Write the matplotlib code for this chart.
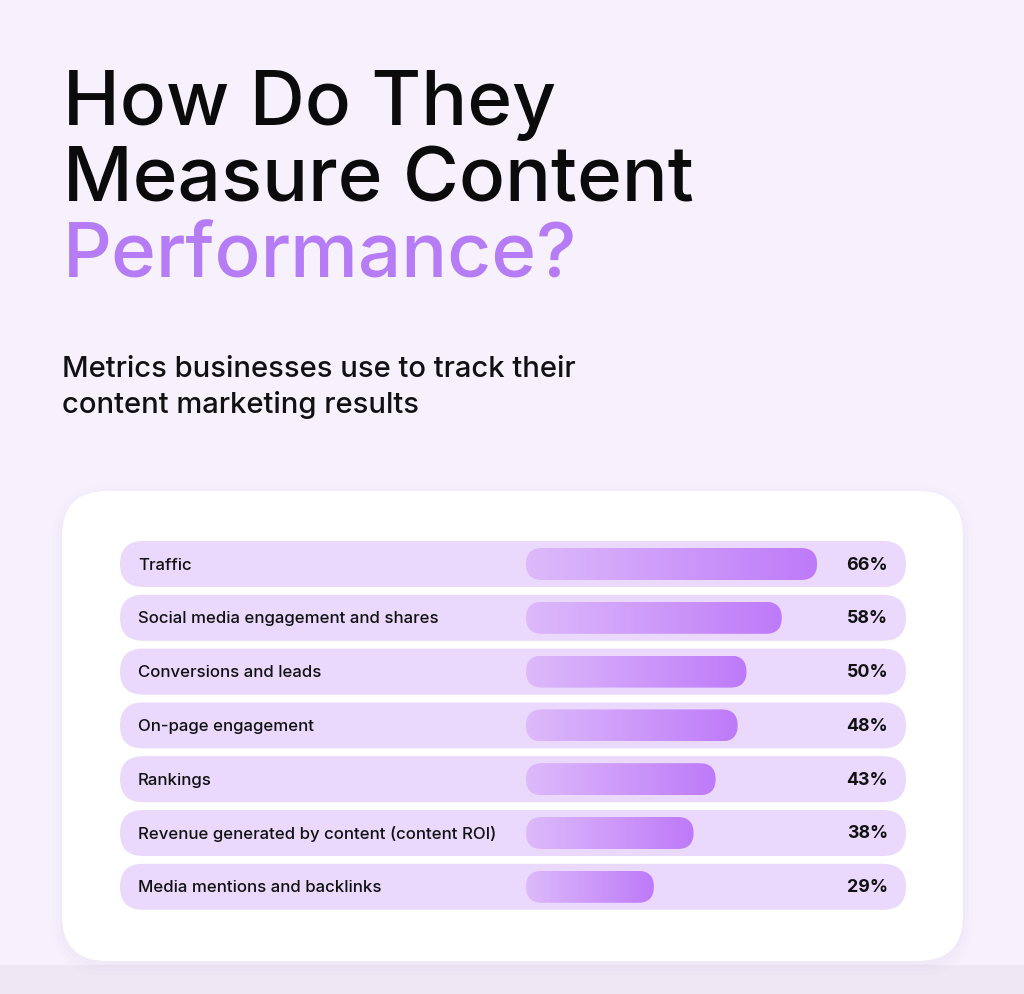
import numpy as np
import matplotlib
matplotlib.use("Agg")
import matplotlib.pyplot as plt
from matplotlib.patches import FancyBboxPatch, Rectangle
from matplotlib.colors import LinearSegmentedColormap

# data
metrics = ["Traffic",
           "Social media engagement and shares",
           "Conversions and leads",
           "On-page engagement",
           "Rankings",
           "Revenue generated by content (content ROI)",
           "Media mentions and backlinks"]
shares = [66, 58, 50, 48, 43, 38, 29]

title_lines = ["How Do They", "Measure Content"]
title_accent = "Performance?"
subtitle = ["Metrics businesses use to track their", "content marketing results"]

W, H = 1024, 995
fig = plt.figure(figsize=(W / 100, H / 100), dpi=100)
ax = fig.add_axes([0, 0, 1, 1])
ax.set_xlim(0, W)
ax.set_ylim(H, 0)
ax.axis("off")

bg = "#F7F1FD"
fig.patch.set_facecolor(bg)
ax.add_patch(Rectangle((0, 0), W, H, facecolor=bg, edgecolor="none", zorder=0))
ax.add_patch(Rectangle((0, 966), W, H - 966, facecolor="#EEE8F4", edgecolor="none", zorder=0))

font = ["Inter", "DejaVu Sans"]

# titles
for i, line in enumerate(title_lines):
    ax.text(63, 125 + i * 76, line, fontsize=55, color="#0B0B0B", family=font,
            fontweight="medium", va="baseline", ha="left")
ax.text(63, 277, title_accent, fontsize=55, color="#B57CF5", family=font,
        fontweight="medium", va="baseline", ha="left")
for i, line in enumerate(subtitle):
    ax.text(62, 377 + i * 36, line, fontsize=21, color="#111111", family=font,
            fontweight="medium", va="baseline", ha="left")

# card with soft shadow
for k, a in enumerate([0.025, 0.03, 0.035]):
    g = 10 - k * 4
    ax.add_patch(FancyBboxPatch((62 - g, 492 - g + 4), 901 + 2 * g, 470 + 2 * g,
                                boxstyle="round,pad=0,rounding_size=%d" % (45 + g),
                                facecolor="#B9A3D6", alpha=a, edgecolor="none", zorder=1))
ax.add_patch(FancyBboxPatch((62, 492), 901, 470, boxstyle="round,pad=0,rounding_size=45",
                            facecolor="white", edgecolor="none", zorder=2))

cmap = LinearSegmentedColormap.from_list("bar", ["#DDBAFB", "#BE7AF9"])
grad = np.linspace(0, 1, 256).reshape(1, -1)

row_y0 = 565
row_step = 53.8
pill_h = 46
bar_h = 32
bar_x0 = 526
px_per_pct = 4.41

for i, (name, v) in enumerate(zip(metrics, shares)):
    yc = row_y0 + i * row_step
    ax.add_patch(FancyBboxPatch((120, yc - pill_h / 2), 786, pill_h,
                                boxstyle="round,pad=0,rounding_size=23",
                                facecolor="#EBD8FD", edgecolor="none", zorder=3))
    x1 = bar_x0 + v * px_per_pct
    bar = FancyBboxPatch((bar_x0, yc - bar_h / 2), x1 - bar_x0, bar_h,
                         boxstyle="round,pad=0,rounding_size=16",
                         facecolor="none", edgecolor="none", zorder=4)
    ax.add_patch(bar)
    im = ax.imshow(grad, cmap=cmap, aspect="auto", zorder=4,
                   extent=(bar_x0, x1, yc + bar_h / 2, yc - bar_h / 2))
    im.set_clip_path(bar)
    ax.text(138, yc, name, fontsize=12.1, color="#111111", family=font,
            fontweight="medium", va="center", ha="left", zorder=5)
    ax.text(888, yc, "%d%%" % v, fontsize=12.8, color="#111111", family=font,
            fontweight="bold", va="center", ha="right", zorder=5)

ax.set_xlim(0, W)
ax.set_ylim(H, 0)
fig.savefig("out.png", dpi=100, facecolor=bg)
